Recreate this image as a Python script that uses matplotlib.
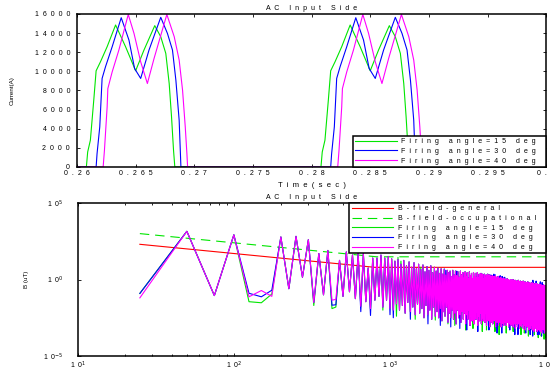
import numpy as np
import matplotlib
matplotlib.use("Agg")
import matplotlib.pyplot as plt
from matplotlib.ticker import FixedLocator, NullLocator, LogLocator

plt.rcParams['font.family'] = ['Liberation Sans', 'DejaVu Sans']

# ---- top panel: AC input current, two cycles per firing angle ----
t15_a = [0.2608, 0.26091, 0.26114, 0.26143, 0.26163, 0.2620, 0.26257, 0.26329, 0.26414, 0.2650,
         0.26571, 0.26663, 0.26714, 0.26757, 0.26786, 0.26806, 0.26823, 0.26834]
t15_b = [0.2808, 0.28091, 0.28114, 0.28143, 0.28163, 0.2820, 0.28257, 0.28329, 0.28414, 0.2850,
         0.28571, 0.28663, 0.28714, 0.28757, 0.28786, 0.28806, 0.28823, 0.28834]
i15 = [0, 1570, 2800, 7000, 10060, 11000, 12580, 14850, 12580, 10060,
       12230, 14780, 13620, 11880, 8730, 5240, 1750, 0]

t30_a = [0.26163, 0.26171, 0.26194, 0.26214, 0.26243, 0.2630, 0.26377, 0.26443, 0.26491, 0.26543,
         0.26614, 0.26714, 0.26771, 0.26814, 0.26843, 0.26871, 0.26886]
t30_b = [0.28163, 0.28171, 0.28194, 0.28214, 0.28243, 0.2830, 0.28377, 0.28443, 0.28491, 0.28543,
         0.28614, 0.28714, 0.28771, 0.28814, 0.28843, 0.28871, 0.28886]
i30 = [0, 1400, 4190, 9260, 10480, 12580, 15610, 13270, 10300, 9260,
       12230, 15650, 13970, 12230, 9080, 4890, 0]

t40_a = [0.26223, 0.26234, 0.26257, 0.26263, 0.2630, 0.26357, 0.26437, 0.26486, 0.26543, 0.2660,
         0.26657, 0.26766, 0.26829, 0.26871, 0.2690, 0.26923, 0.26937, 0.26943]
t40_b = [0.28223, 0.28234, 0.28257, 0.28263, 0.2830, 0.28357, 0.28437, 0.28486, 0.28543, 0.2860,
         0.28657, 0.28766, 0.28829, 0.28871, 0.2890, 0.28923, 0.28937, 0.28943]
i40 = [0, 1750, 6290, 8200, 9950, 12230, 15950, 13970, 11000, 8730,
       11350, 15950, 13620, 11180, 8030, 4190, 1400, 0]

t_start, t_end = 0.26, 0.30

# ---- bottom panel: field spectrum, log10(B/uT) per 25 Hz bin (25 ... 10000 Hz) ----
spec_base = [
    -1.2, 3.15, -1.05, 2.92, -1.13, -0.72, -1.1, 2.78, -0.6, 2.82, 0.15, 2.6, -1.5, 1.7, -1.0, 1.9, -1.35, -1.3, 1.25, -1.1,
    1.8, -0.8, 1.6, -1.25, 1.7, -1.75, 1.7, -1.45, 0.75, -1.9, 1.4, -1.35, 1.4, -1.1, 1.6, -1.8, 1.4, -1.35, 1.5, -1.9,
    1.35, -2.0, 1.2, -1.6, 1.3, -2.0, 1.0, -1.7, 1.25, -2.2, 0.9, -1.5, 1.15, -2.1, 0.8, -1.8, 1.1, -2.3, 0.7, -1.6,
    1.0, -2.2, 0.65, -1.9, 0.95, -2.5, 0.5, -1.7, 0.85, -2.3, 0.6, -2.0, 0.9, -2.6, 0.45, -1.8, 0.8, -2.4, 0.55, -2.1,
    0.75, -2.5, 0.4, -1.9, 0.7, -2.7, 0.35, -2.1, 0.65, -2.4, 0.3, -1.8, 0.6, -2.8, 0.45, -2.2, 0.55, -2.5, 0.2, -2.0,
    0.6, -2.6, 0.3, -2.2, 0.55, -2.9, 0.25, -2.0, 0.5, -2.5, 0.15, -2.3, 0.55, -2.8, 0.3, -2.1, 0.45, -2.6, 0.1, -2.2,
    0.5, -2.9, 0.2, -2.3, 0.45, -2.6, 0.1, -2.0, 0.5, -3.0, 0.25, -2.4, 0.4, -2.7, 0.05, -2.2, 0.45, -2.9, 0.2, -2.3,
    0.4, -2.6, 0.15, -2.1, 0.45, -3.0, 0.1, -2.4, 0.35, -2.7, 0.0, -2.2, 0.4, -2.9, 0.15, -2.5, 0.35, -2.7, 0.05, -2.3,
    0.35, -2.8, 0.1, -2.2, 0.3, -3.0, 0.0, -2.5, 0.35, -2.7, 0.05, -2.3, 0.3, -3.1, 0.1, -2.4, 0.25, -2.8, -0.05, -2.4,
    0.25, -2.9, 0.0, -2.3, 0.2, -2.7, -0.1, -2.5, 0.25, -3.1, 0.0, -2.4, 0.15, -2.8, -0.05, -2.3, 0.2, -3.0, -0.1, -2.6,
    0.1, -2.8, -0.1, -2.4, 0.15, -3.1, -0.15, -2.5, 0.05, -2.9, -0.2, -2.4, 0.1, -3.0, -0.1, -2.6, 0.05, -2.8, -0.2, -2.5,
    0.0, -3.0, -0.2, -2.5, 0.05, -2.8, -0.25, -2.6, 0.0, -3.1, -0.15, -2.5, -0.05, -2.9, -0.3, -2.6, 0.0, -3.0, -0.2, -2.7,
    -0.05, -2.9, -0.25, -2.6, 0.0, -3.1, -0.3, -2.5, -0.1, -2.9, -0.2, -2.7, -0.05, -3.2, -0.3, -2.6, -0.1, -2.9, -0.35, -2.7,
    -0.1, -3.1, -0.3, -2.6, -0.05, -2.9, -0.35, -2.8, -0.15, -3.2, -0.3, -2.7, -0.1, -3.0, -0.4, -2.7, -0.15, -3.1, -0.3, -2.8,
    -0.15, -2.9, -0.35, -2.7, -0.1, -3.2, -0.4, -2.8, -0.2, -3.0, -0.3, -2.7, -0.15, -3.3, -0.45, -2.8, -0.2, -3.0, -0.35, -2.9,
    -0.2, -3.1, -0.4, -2.8, -0.15, -3.0, -0.45, -2.9, -0.25, -3.3, -0.35, -2.8, -0.2, -3.1, -0.5, -2.9, -0.25, -3.2, -0.4, -2.9,
    -0.25, -3.0, -0.45, -2.9, -0.2, -3.3, -0.5, -2.9, -0.3, -3.1, -0.4, -2.8, -0.25, -3.4, -0.5, -3.0, -0.3, -3.1, -0.45, -3.0,
    -0.3, -3.2, -0.5, -2.9, -0.25, -3.1, -0.55, -3.0, -0.35, -3.4, -0.45, -2.9, -0.3, -3.2, -0.55, -3.0, -0.35, -3.3, -0.5, -3.0,
    -0.35, -3.1, -0.55, -3.0, -0.3, -3.4, -0.6, -3.0, -0.4, -3.2, -0.5, -3.0, -0.35, -3.5, -0.6, -3.1, -0.4, -3.2, -0.55, -3.1,
    -0.4, -3.3, -0.6, -3.0, -0.35, -3.2, -0.65, -3.1, -0.45, -3.5, -0.55, -3.0, -0.4, -3.3, -0.65, -3.1, -0.45, -3.4, -0.6, -3.2,
]
# bins where the 15 / 30 deg spectra leave the 40 deg one (Hz: log10 B)
dev15 = {25: -0.91, 125: -1.45, 150: -1.52, 175: -0.95, 325: -1.7, 425: -1.9, 450: -1.8, 900: -2.0,
         1100: -2.4, 1125: 1.45, 1175: 1.2, 1450: -2.6, 1575: 0.8, 1950: -2.65, 2350: -2.9, 2600: -3.0,
         3050: -3.3, 3400: -3.2, 3900: -3.4, 4150: -3.3, 4700: -3.4, 5000: -3.6, 5550: -3.5, 6150: -3.4,
         6900: -3.6, 7250: -3.5, 7700: -3.7, 8400: -3.6, 8900: -3.8, 9300: -3.7, 9700: -3.9, 9900: -3.8,
         10000: -3.9}
dev30 = {25: -0.91, 125: -0.9, 150: -1.13, 175: -0.7, 425: -1.68, 450: -1.65, 650: -2.1, 750: -2.35,
         1000: -2.3, 1050: -2.5, 1350: -2.6, 1750: -2.9, 2100: -3.0, 2225: 0.7, 2275: 0.6, 2450: -3.1,
         2675: 0.55, 2800: -3.2, 3100: -3.3, 3650: -3.4, 4300: -3.3, 4425: 0.3, 4625: 0.35, 4725: 0.3,
         4850: -3.5, 4975: 0.2, 5075: 0.25, 5200: -3.5, 5225: 0.2, 5425: 0.15, 5850: -3.3, 6300: -3.6,
         6600: -3.6, 7400: -3.5, 7900: -3.6, 8200: -3.7, 8225: -0.05, 8625: -0.1, 8800: -3.6, 9000: -3.6,
         9175: -0.15, 9350: -3.7, 9425: -0.2, 9600: -3.5}

# exposure limit lines (Hz, uT)
f_general = [25, 800, 10000]
b_general = [200, 6.25, 6.25]
f_occup = [25, 820, 10000]
b_occup = [1000, 30.5, 30.5]

freq = np.arange(25, 10001, 25)

c15, c30, c40 = '#00e600', '#0000ff', '#ff00ff'


def spaced(s):
    return "  ".join(s)


def leg_label(s):
    # trailing blanks give the legend box its right-hand margin
    return spaced(s) + "    "


def spectrum(dev):
    vals = np.array(spec_base, dtype=float)
    for f, v in dev.items():
        vals[f // 25 - 1] = v
    return 10 ** vals


def style_axes(ax):
    for sp in ax.spines.values():
        sp.set_linewidth(1.1)
    ax.tick_params(which='both', direction='in', top=True, right=True, width=0.6, labelsize=5)
    ax.tick_params(which='major', length=2.5)
    ax.tick_params(which='minor', length=1.5)


def add_legend(ax, loc):
    leg = ax.legend(loc=loc, borderaxespad=0, fontsize=5, handlelength=6,
                    handletextpad=0.6, labelspacing=0.38, borderpad=0.35, fancybox=False,
                    framealpha=1, edgecolor='black')
    leg.get_frame().set_linewidth(1.1)
    return leg


fig = plt.figure(figsize=(5.5, 3.74), dpi=100)
lw = 0.8

# ---------------- top ----------------
ax1 = fig.add_axes([0.140, 0.5535, 0.853, 0.4091])
ax1.plot([t_start] + t15_a + t15_b + [t_end], [0] + i15 + i15 + [0], color=c15, lw=lw,
         label=leg_label("Firing angle=15 deg"))
ax1.plot([t_start] + t30_a + t30_b + [t_end], [0] + i30 + i30 + [0], color=c30, lw=lw,
         label=leg_label("Firing angle=30 deg"))
ax1.plot([t_start] + t40_a + t40_b + [t_end], [0] + i40 + i40 + [0], color=c40, lw=lw,
         label=leg_label("Firing angle=40 deg"))
ax1.set_xlim(0.26, 0.30)
ax1.set_ylim(0, 16000)
xt = [0.26, 0.265, 0.27, 0.275, 0.28, 0.285, 0.29, 0.295, 0.3]
ax1.xaxis.set_major_locator(FixedLocator(xt))
ax1.set_xticklabels([spaced(f"{v:g}") for v in xt])
yt = list(range(0, 16001, 2000))
ax1.yaxis.set_major_locator(FixedLocator(yt))
ax1.set_yticklabels([spaced(str(v)) for v in yt])
style_axes(ax1)
ax1.tick_params(axis='y', pad=5)
ax1.tick_params(axis='x', pad=2.5)
ax1.set_title(spaced("AC Input Side"), fontsize=5, pad=3)
ax1.set_xlabel(spaced("Time(sec)"), fontsize=5.5, labelpad=3)
ax1.set_ylabel("Current(A)", fontsize=4.5, labelpad=14)
add_legend(ax1, 'lower right')

# ---------------- bottom ----------------
ax2 = fig.add_axes([0.1413, 0.0481, 0.8517, 0.4091])
ax2.set_xscale('log')
ax2.set_yscale('log')
ax2.plot(f_general, b_general, color='#ff0000', lw=lw, label=leg_label("B-field-general"))
ax2.plot(f_occup, b_occup, color=c15, lw=lw, dashes=(8.5, 5.3),
         label=leg_label("B-field-occupational"))
ax2.plot(freq, spectrum(dev15), color=c15, lw=lw, label=leg_label("Firing angle=15 deg"))
ax2.plot(freq, spectrum(dev30), color=c30, lw=lw, label=leg_label("Firing angle=30 deg"))
ax2.plot(freq, spectrum({}), color=c40, lw=lw, label=leg_label("Firing angle=40 deg"))
ax2.set_xlim(10, 10000)
ax2.set_ylim(1e-5, 1e5)
ax2.xaxis.set_major_locator(FixedLocator([10, 100, 1000, 10000]))
ax2.set_xticklabels([r"1  0$^{%d}$" % k for k in (1, 2, 3, 4)])
ax2.xaxis.set_minor_locator(LogLocator(base=10, subs=np.arange(2, 10), numticks=20))
ax2.yaxis.set_major_locator(FixedLocator([1e-5, 1, 1e5]))
ax2.set_yticklabels([r"1  0$^{-5}$", r"1  0$^{0}$", r"1  0$^{5}$"])
ax2.yaxis.set_minor_locator(NullLocator())
style_axes(ax2)
ax2.tick_params(axis='y', pad=10)
ax2.tick_params(axis='x', pad=3)
ax2.set_title(spaced("AC Input Side"), fontsize=5, pad=3)
ax2.set_xlabel(spaced("Frequency (Hz)"), fontsize=5.5, labelpad=2)
ax2.set_ylabel("B (uT)", fontsize=4.5, labelpad=10)
add_legend(ax2, 'upper right')

fig.savefig("out.png", dpi=100)
